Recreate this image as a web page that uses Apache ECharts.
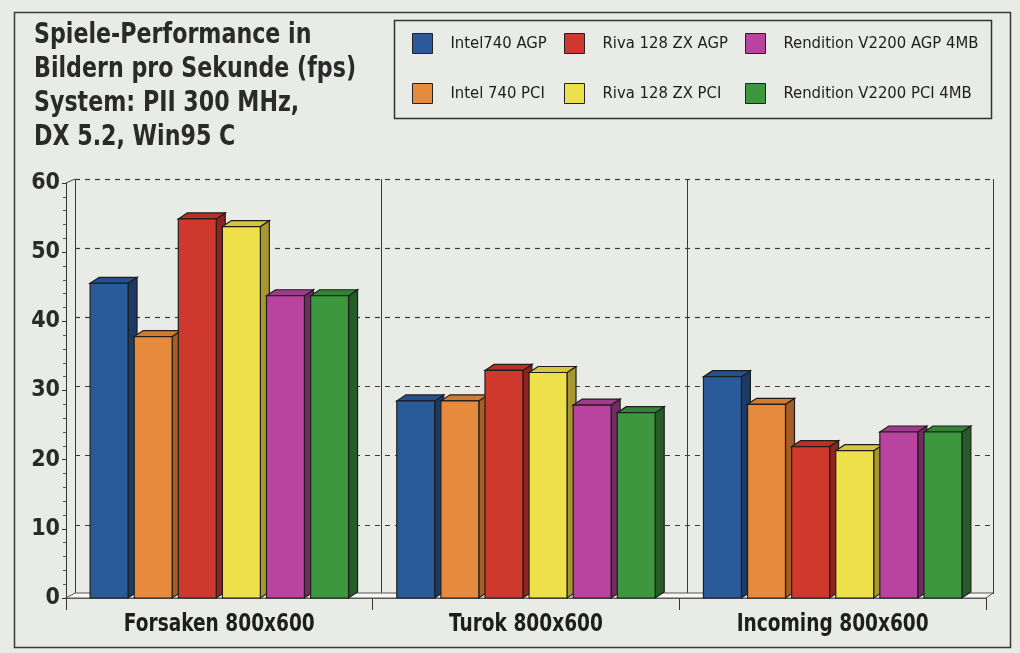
<!DOCTYPE html>
<html><head><meta charset="utf-8">
<script src="https://cdn.jsdelivr.net/npm/echarts@6/dist/echarts.min.js"></script>
<style>html,body{margin:0;padding:0;background:#e9ebe7}#c{width:1020px;height:653px}</style>
</head><body><div id="c"></div>
<script>
const categories = ['Forsaken 800x600', 'Turok 800x600', 'Incoming 800x600'];
const seriesNames = ['Intel740 AGP', 'Intel 740 PCI', 'Riva 128 ZX AGP', 'Riva 128 ZX PCI', 'Rendition V2200 AGP 4MB', 'Rendition V2200 PCI 4MB'];
const intel740AGP = [45.5, 28.5, 32.0];
const intel740PCI = [37.8, 28.5, 28.0];
const riva128AGP = [54.8, 32.9, 21.9];
const riva128PCI = [53.7, 32.6, 21.3];
const renditionAGP = [43.7, 27.9, 24.0];
const renditionPCI = [43.7, 26.8, 24.0];
const yMin = 0, yMax = 60, yStep = 10;
const titleLines = ['Spiele-Performance in', 'Bildern pro Sekunde (fps)', 'System: PII 300 MHz,', 'DX 5.2, Win95 C'];

const seriesValues = [intel740AGP, intel740PCI, riva128AGP, riva128PCI, renditionAGP, renditionPCI];
const FONT = "'DejaVu Sans Condensed','Liberation Sans Narrow',sans-serif";
const colors = [
  {front:'#2b5a9b', top:'#25508a', side:'#1b3a66'},
  {front:'#e68b3d', top:'#d07a32', side:'#a65e25'},
  {front:'#cf382d', top:'#b93027', side:'#8e241d'},
  {front:'#ede04a', top:'#d6c63e', side:'#a8972e'},
  {front:'#b8449f', top:'#a13a8b', side:'#742a64'},
  {front:'#3c973e', top:'#338536', side:'#255c27'}
];
const DX = 9, DY = 6;

function makeRender(k) {
  const c = colors[k];
  return function (params, api) {
    const cat = api.value(0), val = api.value(1);
    const base = api.coord([cat, 0]);
    const top = api.coord([cat, val]);
    const band = api.size([1, 0])[0];
    const pitch = band * 0.1438, w = band * 0.1237;
    const x0 = base[0] + (k - 2.5) * pitch - w / 2, x1 = x0 + w;
    const yb = base[1], yt = top[1];
    const st = {stroke: '#1e1e1e', lineWidth: 1.2};
    return {type: 'group', children: [
      {type: 'polygon', shape: {points: [[x1, yt], [x1 + DX, yt - DY], [x1 + DX, yb - DY], [x1, yb]]}, style: Object.assign({fill: c.side}, st)},
      {type: 'polygon', shape: {points: [[x0, yt], [x0 + DX, yt - DY], [x1 + DX, yt - DY], [x1, yt]]}, style: Object.assign({fill: c.top}, st)},
      {type: 'rect', shape: {x: x0, y: yt, width: w, height: yb - yt}, style: Object.assign({fill: c.front}, st)}
    ]};
  };
}

const series = [{
  type: 'custom', xAxisIndex: 1, yAxisIndex: 1, silent: true, z: 1,
  data: [[0, 0]],
  renderItem: function (params, api) {
    const cs = params.coordSys;
    const bx = cs.x, by = cs.y + cs.height, r = cs.x + cs.width;
    return {type: 'group', children: [
      {type: 'polygon', shape: {points: [[bx, by], [bx + 9, by - 5], [r + 7, by - 5], [r, by]]}, style: {fill: '#f7f8f5', stroke: '#555', lineWidth: 1}},
      {type: 'line', shape: {x1: bx, y1: cs.y, x2: bx + 9, y2: cs.y - 4}, style: {stroke: '#444', lineWidth: 1}}
    ]};
  }
}];
seriesNames.forEach(function (name, k) {
  series.push({
    type: 'custom', name: name, xAxisIndex: 1, yAxisIndex: 1, z: 3,
    itemStyle: {color: colors[k].front},
    encode: {x: 0, y: 1},
    data: seriesValues[k].map(function (v, i) { return [i, v]; }),
    renderItem: makeRender(k)
  });
});

const legendPos = [[412, 33], [412, 83], [564, 33], [564, 83], [745, 33], [745, 83]];
const legends = seriesNames.map(function (name, k) {
  return {
    data: [name], left: legendPos[k][0] - 5, top: legendPos[k][1] - 5,
    icon: 'rect', itemWidth: 20, itemHeight: 20, itemGap: 0, selectedMode: false,
    itemStyle: {borderColor: '#222', borderWidth: 1},
    textStyle: {fontFamily: FONT, fontSize: 16.5, color: '#1e1e1e', padding: [0, 0, 0, 13]}
  };
});

const chart = echarts.init(document.getElementById('c'), null, {renderer: 'canvas'});
chart.setOption({
  backgroundColor: '#e9ebe7',
  animation: false,
  legend: legends,
  grid: [
    {left: 75, right: 27, top: 179, bottom: 59},
    {left: 66, right: 34, top: 183, bottom: 55}
  ],
  xAxis: [
    {type: 'category', gridIndex: 0, data: categories, axisLine: {show: false}, axisTick: {show: false}, axisLabel: {show: false},
     splitLine: {show: true, lineStyle: {color: '#3a3a3a', width: 1}}},
    {type: 'category', gridIndex: 1, data: categories,
     axisLine: {show: true, lineStyle: {color: '#333', width: 1.5}},
     axisTick: {show: true, length: 12, lineStyle: {color: '#333', width: 1}},
     axisLabel: {show: false},
     splitLine: {show: false}}
  ],
  yAxis: [
    {type: 'value', gridIndex: 0, min: yMin, max: yMax, interval: yStep, axisLine: {show: false}, axisTick: {show: false}, axisLabel: {show: false},
     splitLine: {show: true, lineStyle: {color: '#3c3c3c', width: 1.2, type: [5, 5]}}},
    {type: 'value', gridIndex: 1, min: yMin, max: yMax, interval: yStep,
     axisLine: {show: true, lineStyle: {color: '#333', width: 1}},
     axisTick: {show: true, length: 4, lineStyle: {color: '#333'}},
     minorTick: {show: true, splitNumber: 5, length: 3, lineStyle: {color: '#555'}},
     axisLabel: {fontFamily: FONT, fontSize: 23, fontWeight: 'bold', color: '#2a2a2a', margin: 6},
     splitLine: {show: false}}
  ],
  series: series
});

// Texts drawn narrowed (condensed look) as real text elements
const graphics = [
  {type: 'rect', left: 12, top: 10, z: -1, shape: {width: 996, height: 635}, style: {fill: 'none', stroke: '#3a3a3a', lineWidth: 1.5}},
  {type: 'rect', left: 392, top: 18, z: -1, shape: {width: 597, height: 98}, style: {fill: 'none', stroke: '#333', lineWidth: 1.5}},
  {type: 'text', x: 34, y: 19, scaleX: 0.88, style: {text: titleLines.join('\n'), fontFamily: FONT, fontSize: 28, fontWeight: 'bold', lineHeight: 34, fill: '#2a2a2a'}}
];
const yBase = chart.convertToPixel({yAxisIndex: 1}, 0);
categories.forEach(function (name, i) {
  const cx = chart.convertToPixel({xAxisIndex: 1}, i);
  graphics.push({type: 'text', x: cx, y: yBase + 15, scaleX: 0.86,
    style: {text: name, fontFamily: FONT, fontSize: 24, fontWeight: 'bold', fill: '#1e1e1e', align: 'center', verticalAlign: 'top'}});
});
chart.setOption({graphic: graphics});
</script></body></html>
